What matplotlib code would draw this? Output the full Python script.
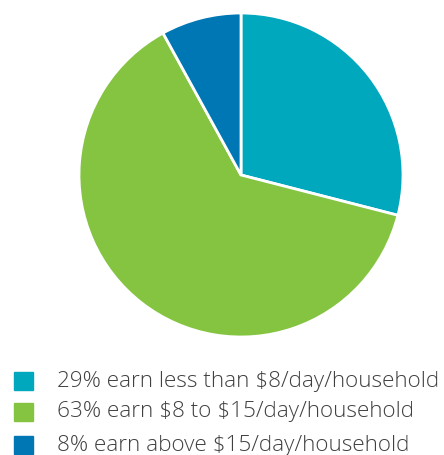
import matplotlib.pyplot as plt
from matplotlib.patches import Rectangle

plt.rcParams['text.usetex'] = False

shares = [29, 63, 8]
labels = [r'29% earn less than \$8/day/household',
          r'63% earn \$8 to \$15/day/household',
          r'8% earn above \$15/day/household']
colors = ['#00A8BE', '#84C441', '#0077B5']

W, H = 444, 455
fig = plt.figure(figsize=(W / 100, H / 100), dpi=100)

# pie centred at (241, 175) px from top-left, radius 162 px
cx, cy, r = 241, 175, 162
ax = fig.add_axes([(cx - r) / W, (H - cy - r) / H, 2 * r / W, 2 * r / H])
ax.pie(shares, colors=colors, startangle=90, counterclock=False,
       wedgeprops=dict(edgecolor='white', linewidth=2))
ax.set_xlim(-1, 1)
ax.set_ylim(-1, 1)
ax.set_aspect('equal')
ax.axis('off')

# legend rows
row_tops = [372, 403, 436]
for top, lab, col in zip(row_tops, labels, colors):
    fig.patches.append(Rectangle((14 / W, (H - top - 18) / H), 19 / W, 18 / H,
                                 transform=fig.transFigure, color=col))
    fig.text(57 / W, (H - top - 9) / H, lab, fontsize=16.2, color='#404040',
             family='Open Sans', fontweight='light', va='center', ha='left')

fig.savefig('out.png', dpi=100)
